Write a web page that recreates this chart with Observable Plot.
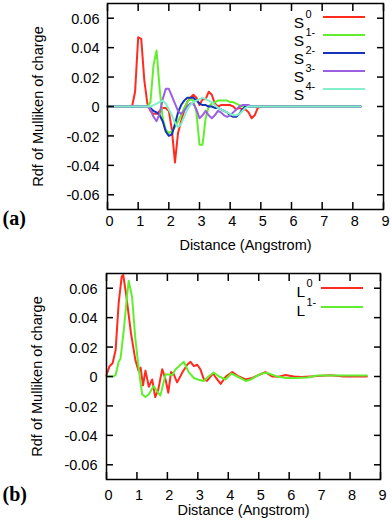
<!DOCTYPE html>
<html>
<head>
<meta charset="utf-8">
<script src="https://cdn.jsdelivr.net/npm/d3@7"></script>
<script src="https://cdn.jsdelivr.net/npm/@observablehq/plot@0.6"></script>
<style>
html,body{margin:0;padding:0;background:#fff;}
#chart{width:392px;height:527px;position:relative;overflow:hidden;background:#fff;}
#chart svg{display:block;}
</style>
</head>
<body>
<div id="chart"></div>
<script>
// ---------- data ----------
const xTicks = [0,1,2,3,4,5,6,7,8,9];
const yTicks = [-0.06,-0.04,-0.02,0,0.02,0.04,0.06];
const yTickLabels = ["-0.06","-0.04","-0.02","0","0.02","0.04","0.06"];
const xTitle = "Distance (Angstrom)";
const yTitle = "Rdf of Mulliken of charge";
const panelTags = ["(a)","(b)"];

// panel (a)
const seriesA = ["S0","S1-","S2-","S3-","S4-"];
const legendBaseA = "S";
const legendSupA = ["0","1-","2-","3-","4-"];
const distA = [0,0.1,0.2,0.3,0.4,0.5,0.6,0.7,0.8,0.9,
  1.0,1.1,1.2,1.3,1.4,1.5,1.6,1.7,1.8,1.9,
  2.0,2.1,2.2,2.3,2.4,2.5,2.6,2.7,2.8,2.9,
  3.0,3.1,3.2,3.3,3.4,3.5,3.6,3.7,3.8,3.9,
  4.0,4.1,4.2,4.3,4.4,4.5,4.6,4.7,4.8,4.9,
  5.0,5.5,6.0,6.5,7.0,7.5,8.0,8.25];
const rdfS0 = [0,0,0,0,0,0,0,0,0,0.010,
  0.047,0.046,0.018,0.002,-0.003,-0.005,-0.005,-0.003,-0.001,-0.001,
  -0.003,-0.016,-0.038,-0.018,-0.010,-0.003,0.003,0.006,0.008,0.006,
  0.001,0.005,0.005,0.010,0.008,0.002,0.000,0.001,0.001,0.001,
  0.001,0.000,-0.002,-0.001,-0.002,-0.002,-0.004,-0.008,-0.006,-0.001,
  0.000,0.0003,0,0.0004,0,0.0002,0,0];
const rdfS1 = [0,0,0,0,0,0,0,0,0,0,
  0,0,0,0,0.003,0.028,0.038,0.012,-0.008,-0.016,
  -0.018,-0.017,-0.014,-0.010,-0.006,-0.001,0.003,0.005,0.004,-0.004,
  -0.026,-0.026,-0.008,0.000,0.002,0.003,0.004,0.004,0.004,0.004,
  0.003,0.003,0.002,0.001,0.000,0,0,0,0,0,
  0,0,0,0,0,0,0,0];
const rdfS2 = [0,0,0,0,0,0,0,0,0,0,
  0,0,0,0,-0.001,-0.003,-0.004,-0.006,-0.010,-0.017,
  -0.020,-0.019,-0.012,-0.004,0.001,0.004,0.006,0.006,0.006,0.004,
  0.002,0.001,0.001,0.000,0.000,-0.001,-0.001,-0.002,-0.003,-0.004,
  -0.006,-0.007,-0.007,-0.005,-0.002,0.000,0,0,0,0,
  0,0,0,0,0,0,0,0];
const rdfS3 = [0,0,0,0,0,0,0,0,0,0,
  0,0,0,0,-0.002,-0.007,-0.010,-0.005,0.005,0.012,
  0.012,0.007,0.002,-0.003,-0.005,-0.003,0.000,0.002,0.002,-0.002,
  -0.008,-0.006,-0.003,-0.006,-0.008,-0.006,-0.003,-0.004,-0.006,-0.007,
  -0.006,-0.004,-0.002,0.000,0.001,0.001,0.001,0.000,0,0,
  0,0,0,0,0,0,0,0];
const rdfS4 = [0,0,0,0,0,0,0,0,0,0,
  0,0,0,0,0,0.001,0.002,0.003,0.004,0.002,
  -0.002,-0.006,-0.011,-0.014,-0.012,-0.007,-0.002,0.001,0.003,0.004,
  0.005,0.006,0.005,0.004,0.003,0.001,-0.001,-0.002,-0.003,-0.004,
  -0.005,-0.006,-0.006,-0.005,-0.003,-0.001,0,0,0,0,
  0,0,0,0,0,0,0,0];

// panel (b)
const seriesB = ["L0","L1-"];
const legendBaseB = "L";
const legendSupB = ["0","1-"];
const distL0 = [0,0.1,0.2,0.3,0.4,0.5,0.55,0.65,0.8,0.95,
  1.05,1.12,1.2,1.28,1.39,1.5,1.6,1.7,1.83,1.94,
  2.03,2.12,2.2,2.32,2.5,2.65,2.76,2.87,2.98,3.08,
  3.2,3.3,3.5,3.6,3.75,3.92,4.13,4.35,4.57,4.78,
  5.0,5.22,5.44,5.66,5.88,6.15,6.4,6.7,6.92,7.36,
  7.8,8.2,8.55];
const rdfL0 = [0.001,0.007,0.009,0.018,0.050,0.068,0.069,0.055,0.030,0.011,
  0.004,0.006,-0.006,0.004,-0.007,-0.002,-0.014,-0.009,0.005,-0.002,
  -0.011,0.003,0.002,-0.004,0.003,0.008,0.010,0.007,0.008,0.005,
  -0.002,-0.003,0.002,-0.001,-0.005,0.000,0.003,0.000,-0.002,-0.001,
  0.001,0.003,0.000,-0.0002,0.001,0.0,-0.0004,0.0,0.0003,0.0008,
  0.0,0.0,0.0];
const distL1 = [0,0.1,0.23,0.3,0.4,0.46,0.57,0.68,0.73,0.84,
  0.95,1.06,1.17,1.28,1.39,1.55,1.66,1.77,1.94,2.16,
  2.27,2.38,2.54,2.7,2.87,3.0,3.19,3.35,3.52,3.7,
  3.91,4.1,4.3,4.57,4.75,4.9,5.1,5.28,5.6,5.9,
  6.26,6.59,6.92,7.4,7.9,8.55];
const rdfL1 = [0.0,0.0,0.0,0.001,0.010,0.012,0.032,0.056,0.065,0.054,
  0.025,0.005,-0.012,-0.014,-0.012,-0.0065,-0.010,-0.013,0.0015,0.001,
  0.005,0.007,0.010,0.003,-0.001,-0.002,-0.003,0.000,0.0027,0.000,
  -0.002,0.002,0.000,-0.003,-0.002,0.000,0.002,0.0025,0.000,-0.001,
  -0.001,-0.0007,0.0007,0.0007,0.0007,0.0007];

// ---------- styles ----------
const colorsA = ["#ff2b1f","#62ee2e","#1433b8","#9b5fe0","#80f0c8"];
const colorsB = ["#ff2b1f","#62ee2e"];
const sansFont = "'Liberation Sans', Arial, Helvetica, sans-serif";

// ---------- tables ----------
const valsA = [rdfS0, rdfS1, rdfS2, rdfS3, rdfS4];
const rowsA = seriesA.flatMap((s, k) => distA.map((d, i) => ({x: d, y: valsA[k][i], s})));
const rowsB = [
  ...distL0.map((d, i) => ({x: d, y: rdfL0[i], s: seriesB[0]})),
  ...distL1.map((d, i) => ({x: d, y: rdfL1[i], s: seriesB[1]}))
];

function panel(o) {
  const marks = o.names.map((n, k) => Plot.line(o.rows.filter(r => r.s === n), {
    x: "x", y: "y", stroke: o.colors[k], strokeWidth: 2, strokeLinejoin: "round"
  }));
  const noText = () => "";
  marks.push(
    Plot.frame({stroke: "black", strokeWidth: 1.5}),
    Plot.axisX(xTicks, {anchor: "bottom", tickSize: -7, tickFormat: noText, label: null, strokeWidth: 1.5}),
    Plot.axisX(xTicks, {anchor: "top", tickSize: -7, tickFormat: noText, label: null, strokeWidth: 1.5}),
    Plot.axisY(yTicks, {anchor: "left", tickSize: -7, tickFormat: noText, label: null, strokeWidth: 1.5}),
    Plot.axisY(yTicks, {anchor: "right", tickSize: -7, tickFormat: noText, label: null, strokeWidth: 1.5}),
    Plot.axisX(xTicks, {anchor: "bottom", tickSize: 0, tickPadding: o.xPad, dx: 2, label: null, tickFormat: d => String(d), fontSize: 14.5}),
    Plot.axisY(yTicks, {anchor: "left", tickSize: 0, tickPadding: o.yPad, dy: 1, label: null, tickFormat: d => yTickLabels[yTicks.indexOf(d)], fontSize: 14.5}),
    Plot.text([xTitle], {frameAnchor: "bottom", text: d => d, textAnchor: "middle", dy: o.titleDy, fontSize: 14.5}),
    Plot.text([yTitle], {frameAnchor: "left", text: d => d, textAnchor: "middle", rotate: -90, dx: o.yTitleDx, fontSize: 14.5}),
    Plot.text([o.tag], {frameAnchor: "bottom-left", text: d => d, textAnchor: "start", dx: 2 - o.ml, dy: o.tagDy,
      fontFamily: "'Liberation Serif', 'Times New Roman', serif", fontWeight: "bold", fontSize: 20})
  );
  const svg = Plot.plot({
    width: 392, height: o.height,
    marginTop: o.mt, marginBottom: o.mb, marginLeft: o.ml, marginRight: o.mr,
    style: {fontFamily: sansFont, fontSize: "14.5px", color: "black", background: "white", overflow: "visible"},
    x: {domain: [0, 9]},
    y: {domain: [-0.07, 0.07]},
    marks
  });
  // legend (inside the frame, top-right, gnuplot style)
  const g = d3.select(svg).append("g").attr("font-family", sansFont).attr("fill", "black");
  o.sups.forEach((sup, i) => {
    const ly = o.lg.y0 + i * o.lg.step;
    g.append("text").attr("x", o.lg.baseRight).attr("y", ly + o.lg.baseOff)
      .attr("text-anchor", "end").attr("font-size", 15.5).text(o.base);
    g.append("text").attr("x", o.lg.baseRight + 1.5).attr("y", ly + o.lg.baseOff - o.lg.raise)
      .attr("text-anchor", "start").attr("font-size", 11).text(sup);
    g.append("line").attr("x1", o.lg.x1).attr("x2", o.lg.x2).attr("y1", ly).attr("y2", ly)
      .attr("stroke", o.colors[i]).attr("stroke-width", 2);
  });
  return svg;
}

const root = document.getElementById("chart");
root.appendChild(panel({
  rows: rowsA, names: seriesA, colors: colorsA, base: legendBaseA, sups: legendSupA, tag: panelTags[0],
  height: 258, mt: 3, mb: 49, ml: 107, mr: 9,
  xPad: 6, yPad: 8, titleDy: 40, yTitleDx: -69, tagDy: 15,
  lg: {y0: 17, step: 18, baseRight: 304, x1: 323, x2: 365, baseOff: 11, raise: 10}
}));
root.appendChild(panel({
  rows: rowsB, names: seriesB, colors: colorsB, base: legendBaseB, sups: legendSupB, tag: panelTags[1],
  height: 269, mt: 15, mb: 48, ml: 106, mr: 12,
  xPad: 10, yPad: 9, titleDy: 35, yTitleDx: -69, tagDy: 21,
  lg: {y0: 30, step: 19, baseRight: 305, x1: 321, x2: 363, baseOff: 9, raise: 10}
}));
</script>
</body>
</html>
